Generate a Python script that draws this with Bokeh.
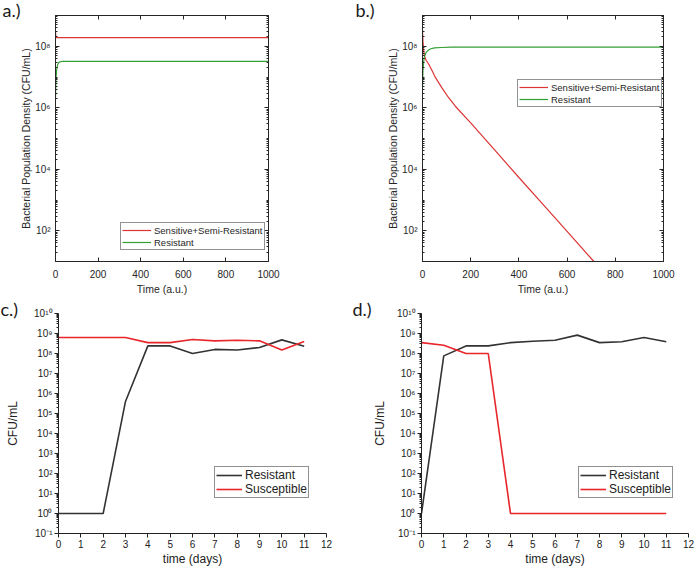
from bokeh.plotting import figure
from bokeh.models import (FixedTicker, CustomJSTickFormatter, Legend, LegendItem, Title,
                          LinearAxis, LogAxis, Range1d)
from bokeh.layouts import column, row
from bokeh.embed import file_html
from bokeh.resources import INLINE

# ---------------- data ----------------
# panel a (model)
a_t_sens = [0, 1, 2, 4, 8, 1000]
a_sens = [3.1e8, 2.3e8, 2.0e8, 1.92e8, 1.9e8, 1.9e8]
a_t_res = [0, 2, 5, 10, 15, 20, 30, 50, 1000]
a_res = [2.1e6, 8e6, 1.6e7, 2.5e7, 2.9e7, 3.1e7, 3.2e7, 3.2e7, 3.2e7]

# panel b (model)
b_t_sens = [0, 2, 5, 8, 15, 26, 40, 54, 80, 107, 137, 200, 300, 400, 500, 600, 711]
b_sens = [3.4e8, 1.4e8, 7.1e7, 4.8e7, 3.5e7, 2.6e7, 1.6e7, 9.5e6, 4.5e6, 2.2e6, 1.1e6,
          3.2e5, 4.2e4, 5.4e3, 7.2e2, 95, 10]
b_t_res = [0, 2, 5, 8, 15, 25, 35, 50, 80, 120, 200, 1000]
b_res = [5e6, 1.6e7, 3.2e7, 4.6e7, 6.3e7, 7.6e7, 8.3e7, 8.9e7, 9.1e7, 9.3e7, 9.3e7, 9.3e7]

# panel c (experiment)
c_days = [0, 1, 2, 3, 4, 5, 6, 7, 8, 9, 10, 11]
c_resistant = [1, 1, 1, 4e5, 2.4e8, 2.4e8, 1e8, 1.6e8, 1.5e8, 2e8, 4.8e8, 2.3e8]
c_susceptible = [6.3e8, 6.3e8, 6.3e8, 6.3e8, 3.5e8, 3.5e8, 5e8, 4.3e8, 4.6e8, 4.3e8, 1.5e8, 4e8]

# panel d (experiment)
d_days = [0, 1, 2, 3, 4, 5, 6, 7, 8, 9, 10, 11]
d_resistant = [1, 7.6e7, 2.4e8, 2.4e8, 3.5e8, 4.1e8, 4.6e8, 8.3e8, 3.5e8, 3.9e8, 6.3e8, 3.9e8]
d_susceptible = [3.5e8, 2.6e8, 1e8, 1e8, 1, 1, 1, 1, 1, 1, 1, 1]

model_x_ticks = [0, 200, 400, 600, 800, 1000]
model_y_ticks = [1e2, 1e4, 1e6, 1e8]
exp_x_ticks = list(range(0, 13))
exp_y_ticks = [10.0 ** k for k in range(-1, 11)]

FONT = "Liberation Sans"
LABFONT = "Lato"
GRAY = "#262626"
RED_M, GREEN_M = "#dc3434", "#33a033"
BLACK_E, RED_E = "#333333", "#e8262b"

sup_fmt = CustomJSTickFormatter(code="""
const e = Math.round(Math.log10(tick));
const s = {'-':'\u207b','0':'\u2070','1':'\u00b9','2':'\u00b2','3':'\u00b3','4':'\u2074',
           '5':'\u2075','6':'\u2076','7':'\u2077','8':'\u2078','9':'\u2079'};
return '10' + String(e).split('').map(c => s[c]).join('');
""")
blank_fmt = CustomJSTickFormatter(code="return '';")


def minor_log(lo, hi):
    out = []
    for k in range(lo, hi):
        for m in range(2, 10):
            out.append(m * 10.0 ** k)
    return out


def make_fig(w, h, l, r, t, b, xr, yr, label, offset, standoff):
    ttl = Title(text=label, text_font=LABFONT, text_font_size="18px", text_color="#1a1a1a",
                text_font_style="normal", align="left", offset=offset, standoff=standoff)
    p = figure(width=w, height=h, x_range=xr, y_range=yr, y_axis_type="log",
               output_backend="svg", toolbar_location=None, title=ttl,
               min_border_left=l, min_border_right=r, min_border_top=t, min_border_bottom=b)
    p.grid.visible = False
    p.background_fill_color = "white"
    p.border_fill_color = "white"
    return p


def style_model(p, xlabel, ylabel):
    p.outline_line_color = GRAY
    xt = FixedTicker(ticks=model_x_ticks)
    yt = FixedTicker(ticks=model_y_ticks, minor_ticks=minor_log(1, 9) + [1e3, 1e5, 1e7])
    for ax in p.xaxis:
        ax.ticker = xt
    for ax in p.yaxis:
        ax.ticker = yt
        ax.formatter = sup_fmt
    for ax in p.axis:
        ax.axis_line_color = GRAY
        ax.major_tick_line_color = GRAY
        ax.minor_tick_line_color = GRAY
        ax.major_tick_in = 4
        ax.major_tick_out = 0
        ax.minor_tick_in = 2
        ax.minor_tick_out = 0
        ax.major_label_text_font = FONT
        ax.major_label_text_font_size = "10px"
        ax.major_label_text_color = GRAY
        ax.axis_label_text_font = FONT
        ax.axis_label_text_font_size = "10.5px"
        ax.axis_label_text_font_style = "normal"
        ax.axis_label_text_color = GRAY
    p.xaxis.major_label_standoff = 8
    p.xaxis.axis_label_standoff = 2
    p.yaxis.major_label_standoff = 5
    p.yaxis.axis_label_standoff = 0
    p.xaxis.axis_label = xlabel
    p.yaxis.axis_label = ylabel
    top = LinearAxis(ticker=xt, formatter=blank_fmt, major_tick_in=4, major_tick_out=0,
                     minor_tick_in=0, minor_tick_out=0, major_label_standoff=0,
                     major_label_text_font_size="1px", axis_line_color=GRAY,
                     major_tick_line_color=GRAY)
    right = LogAxis(ticker=yt, formatter=blank_fmt, major_tick_in=4, major_tick_out=0,
                    minor_tick_in=2, minor_tick_out=0, major_label_standoff=0,
                    major_label_text_font_size="1px", axis_line_color=GRAY,
                    major_tick_line_color=GRAY, minor_tick_line_color=GRAY)
    p.add_layout(top, "above")
    p.add_layout(right, "right")


def style_exp(p, xlabel, ylabel, ylab_standoff):
    p.outline_line_color = None
    p.xaxis.ticker = FixedTicker(ticks=exp_x_ticks)
    p.yaxis.ticker = FixedTicker(ticks=exp_y_ticks, minor_ticks=minor_log(-1, 10))
    p.yaxis.formatter = sup_fmt
    for ax in p.axis:
        ax.axis_line_color = "#222222"
        ax.major_tick_line_color = "#222222"
        ax.minor_tick_line_color = "#222222"
        ax.major_tick_in = 0
        ax.major_tick_out = 4
        ax.minor_tick_in = 0
        ax.minor_tick_out = 2
        ax.major_label_text_font = FONT
        ax.major_label_text_font_size = "10px"
        ax.major_label_text_color = "#222222"
        ax.axis_label_text_font = FONT
        ax.axis_label_text_font_size = "12px"
        ax.axis_label_text_font_style = "normal"
        ax.axis_label_text_color = "#222222"
    p.xaxis.major_label_standoff = 2
    p.xaxis.axis_label_standoff = 1
    p.yaxis.major_label_standoff = 2
    p.yaxis.axis_label_standoff = ylab_standoff
    p.xaxis.axis_label = xlabel
    p.yaxis.axis_label = ylabel


def add_legend(p, items, loc, fsize, gw, color, lh):
    leg = Legend(items=items, location=loc, orientation="vertical",
                 label_text_font=FONT, label_text_font_size=fsize, label_text_color=color,
                 glyph_width=gw, glyph_height=lh, label_height=lh, label_standoff=3,
                 padding=1, spacing=0, margin=0, border_line_color=color,
                 border_line_width=1, background_fill_color="white", background_fill_alpha=1)
    p.add_layout(leg)


# ---------------- panel a ----------------
pa = make_fig(348, 297, 55, 80, 15, 32, Range1d(0, 1000), Range1d(1e1, 1e9), "a.)", -53, -11)
style_model(pa, "Time (a.u.)", "Bacterial Population Density (CFU/mL)")
ra1 = pa.line(a_t_sens, a_sens, line_color=RED_M, line_width=1.2)
ra2 = pa.line(a_t_res, a_res, line_color=GREEN_M, line_width=1.2)
add_legend(pa, [LegendItem(label="Sensitive+Semi-Resistant", renderers=[ra1]),
                LegendItem(label="Resistant", renderers=[ra2])], (65, 11), "9.5px", 29, GRAY, 12)

# ---------------- panel b ----------------
pb = make_fig(348, 297, 74, 33, 15, 32, Range1d(0, 1000), Range1d(1e1, 1e9), "b.)", -67, -11)
style_model(pb, "Time (a.u.)", "Bacterial Population Density (CFU/mL)")
rb1 = pb.line(b_t_sens, b_sens, line_color=RED_M, line_width=1.2)
rb2 = pb.line(b_t_res, b_res, line_color=GREEN_M, line_width=1.2)
add_legend(pb, [LegendItem(label="Sensitive+Semi-Resistant", renderers=[rb1]),
                LegendItem(label="Resistant", renderers=[rb2])], (95, 154), "9.5px", 29, GRAY, 12)

# ---------------- panel c ----------------
pc = make_fig(348, 272, 58, 22, 16, 36, Range1d(0, 12), Range1d(1e-1, 1e10), "c.)", -58, -12)
style_exp(pc, "time (days)", "CFU/mL", 11)
rc1 = pc.line(c_days, c_resistant, line_color=BLACK_E, line_width=1.6)
rc2 = pc.line(c_days, c_susceptible, line_color=RED_E, line_width=1.6)
add_legend(pc, [LegendItem(label="Resistant", renderers=[rc1]),
                LegendItem(label="Susceptible", renderers=[rc2])], (156, 35), "12px", 26, "#222222", 12)

# ---------------- panel d ----------------
pd_ = make_fig(348, 272, 73, 8, 16, 36, Range1d(0, 12), Range1d(1e-1, 1e10), "d.)", -69, -13)
style_exp(pd_, "time (days)", "CFU/mL", 7)
rd1 = pd_.line(d_days, d_resistant, line_color=BLACK_E, line_width=1.6)
rd2 = pd_.line(d_days, d_susceptible, line_color=RED_E, line_width=1.6)
add_legend(pd_, [LegendItem(label="Resistant", renderers=[rd1]),
                 LegendItem(label="Susceptible", renderers=[rd2])], (157, 35), "12px", 26, "#222222", 12)

layout = column(row(pa, pb), row(pc, pd_))

open("out.html", "w").write(file_html(layout, INLINE))
